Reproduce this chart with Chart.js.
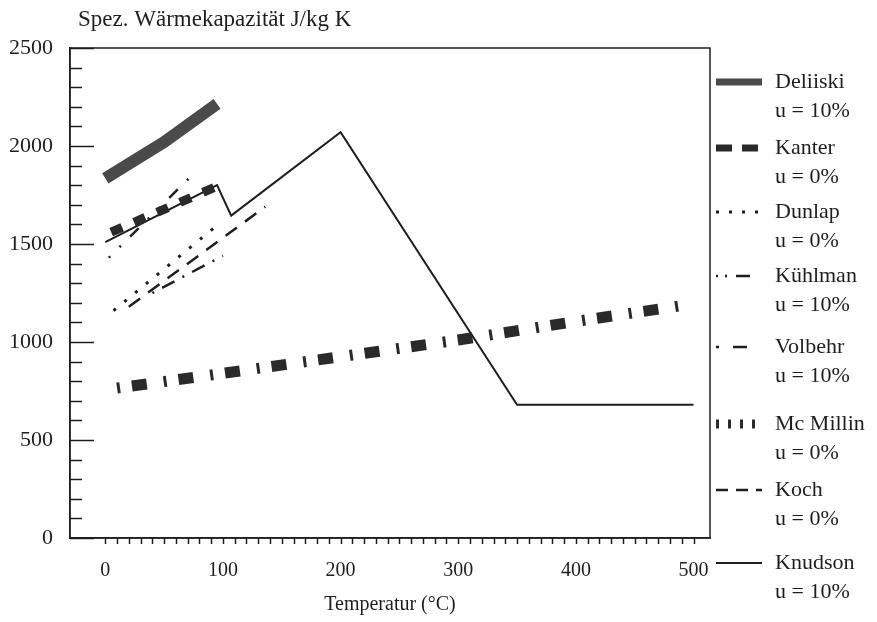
<!DOCTYPE html>
<html>
<head>
<meta charset="utf-8">
<script src="https://cdn.jsdelivr.net/npm/chart.js@4.4.1/dist/chart.umd.min.js"></script>
<style>
  html, body { margin: 0; padding: 0; background: #fff; }
  #wrap { width: 877px; height: 622px; }
</style>
</head>
<body>
<div id="wrap"><canvas id="waerme" width="877" height="622"></canvas></div>
<script>
// series labels
const seriesNames = ['Deliiski', 'Kanter', 'Dunlap', 'Kühlman', 'Volbehr', 'Mc Millin', 'Koch', 'Knudson'];
const seriesMoisture = ['u = 10%', 'u = 0%', 'u = 0%', 'u = 10%', 'u = 10%', 'u = 0%', 'u = 0%', 'u = 10%'];

// temperature (°C) / specific heat (J/kg K)
const deliiskiT = [0, 50, 95];
const deliiskiC = [1835, 2020, 2215];
const kanterT = [5, 95];
const kanterC = [1560, 1795];
const dunlapT = [7, 96];
const dunlapC = [1160, 1600];
const kuehlmanT = [3, 72];
const kuehlmanC = [1430, 1840];
const volbehrT = [40, 100];
const volbehrC = [1250, 1440];
const mcMillinT = [10, 100, 200, 300, 400, 495];
const mcMillinC = [765, 840, 925, 1010, 1105, 1190];
const kochT = [20, 136];
const kochC = [1180, 1690];
const knudsonT = [0, 95, 107, 200, 350, 500];
const knudsonC = [1510, 1800, 1645, 2070, 680, 680];

const xTickLabels = [0, 100, 200, 300, 400, 500];
const yTickLabels = [0, 500, 1000, 1500, 2000, 2500];

const INK = '#1e1e1e';
const serif = '"Liberation Serif", "Times New Roman", serif';
Chart.defaults.font.family = serif;
Chart.defaults.color = INK;

function pts(xs, ys) {
  return xs.map((v, i) => ({ x: v, y: ys[i] }));
}

// line looks, with a separate look for the legend sample
const looks = [
  { color: '#4a4a4a', width: 12, dash: [], legendWidth: 7, legendDash: [] },
  { color: '#2a2a2a', width: 9, dash: [12, 13], legendWidth: 7, legendDash: [16, 10] },
  { color: INK, width: 3, dash: [3, 11], legendWidth: 3, legendDash: [3, 10] },
  { color: INK, width: 2.5, dash: [2, 13, 2, 13, 12, 13], legendWidth: 2.5, legendDash: [2, 7, 2, 9, 14, 40] },
  { color: INK, width: 2.5, dash: [2, 9, 14, 9], legendWidth: 2.5, legendDash: [3, 14, 14, 40] },
  { color: '#2a2a2a', width: 11, dash: [3, 12, 15, 17], legendWidth: 9, legendDash: [3, 9] },
  { color: INK, width: 2.5, dash: [14, 10], legendWidth: 2.5, legendDash: [12, 8] },
  { color: INK, width: 2, dash: [], legendWidth: 2, legendDash: [] }
];

const allT = [deliiskiT, kanterT, dunlapT, kuehlmanT, volbehrT, mcMillinT, kochT, knudsonT];
const allC = [deliiskiC, kanterC, dunlapC, kuehlmanC, volbehrC, mcMillinC, kochC, knudsonC];

const datasets = seriesNames.map((name, i) => ({
  label: name + ' ' + seriesMoisture[i],
  data: pts(allT[i], allC[i]),
  showLine: true,
  borderColor: looks[i].color,
  borderWidth: looks[i].width,
  borderDash: looks[i].dash,
  pointRadius: 0,
  fill: false,
  tension: 0
}));

const frameAndTicks = {
  id: 'frameAndTicks',
  afterDatasetsDraw(chart) {
    const { ctx, chartArea: a, scales: { x, y } } = chart;
    ctx.save();
    ctx.strokeStyle = INK;
    ctx.lineWidth = 1.5;
    ctx.strokeRect(a.left, a.top, a.right - a.left, a.bottom - a.top);
    y.ticks.forEach(t => {
      const py = Math.round(y.getPixelForValue(t.value)) + 0.5;
      const len = t.value % 500 === 0 ? 24 : 12;
      ctx.beginPath();
      ctx.moveTo(a.left, py);
      ctx.lineTo(a.left + len, py);
      ctx.stroke();
    });
    x.ticks.forEach(t => {
      if (t.value < 0 || t.value > 500) return;
      const px = Math.round(x.getPixelForValue(t.value)) + 0.5;
      ctx.beginPath();
      ctx.moveTo(px, a.bottom);
      ctx.lineTo(px, a.bottom + 6);
      ctx.stroke();
    });
    ctx.restore();
  }
};

const sideTexts = {
  id: 'sideTexts',
  afterDraw(chart) {
    const { ctx } = chart;
    const rows = [82, 148, 212, 276, 347, 424, 490, 563];
    ctx.save();
    ctx.fillStyle = INK;
    ctx.textBaseline = 'middle';
    ctx.font = '23px ' + serif;
    ctx.fillText('Spez. Wärmekapazität J/kg K', 78, 20);
    ctx.font = '22px ' + serif;
    chart.data.datasets.forEach((ds, i) => {
      const yy = rows[i];
      const lk = looks[i];
      ctx.save();
      ctx.strokeStyle = lk.color;
      ctx.lineWidth = lk.legendWidth;
      ctx.setLineDash(lk.legendDash);
      ctx.beginPath();
      ctx.moveTo(716, yy);
      ctx.lineTo(762, yy);
      ctx.stroke();
      ctx.restore();
      ctx.fillText(seriesNames[i], 775, yy);
      ctx.fillText(seriesMoisture[i], 775, yy + 29);
    });
    ctx.restore();
  }
};

new Chart(document.getElementById('waerme'), {
  type: 'scatter',
  data: { datasets: datasets },
  options: {
    responsive: false,
    animation: false,
    devicePixelRatio: 1,
    layout: { padding: { left: 0, top: 48, right: 167, bottom: 0 } },
    plugins: { legend: { display: false }, tooltip: { enabled: false } },
    scales: {
      x: {
        type: 'linear',
        min: -30,
        max: 514,
        grid: { display: false },
        border: { color: INK, width: 1.5 },
        afterFit(scale) { scale.height = 84; },
        ticks: {
          stepSize: 10,
          includeBounds: false,
          autoSkip: false,
          maxRotation: 0,
          padding: 13,
          font: { size: 20 },
          callback: v => (xTickLabels.includes(v) ? String(v) : '')
        },
        title: {
          display: true,
          text: 'Temperatur (°C)',
          font: { size: 20 },
          padding: { top: 0, bottom: 5 }
        }
      },
      y: {
        min: 0,
        max: 2500,
        grid: { display: false },
        border: { color: INK, width: 1.5 },
        afterFit(scale) { scale.width = 70; },
        ticks: {
          stepSize: 100,
          autoSkip: false,
          padding: 9,
          font: { size: 22 },
          callback: v => (yTickLabels.includes(v) ? String(v) : '')
        }
      }
    }
  },
  plugins: [frameAndTicks, sideTexts]
});
</script>
</body>
</html>
